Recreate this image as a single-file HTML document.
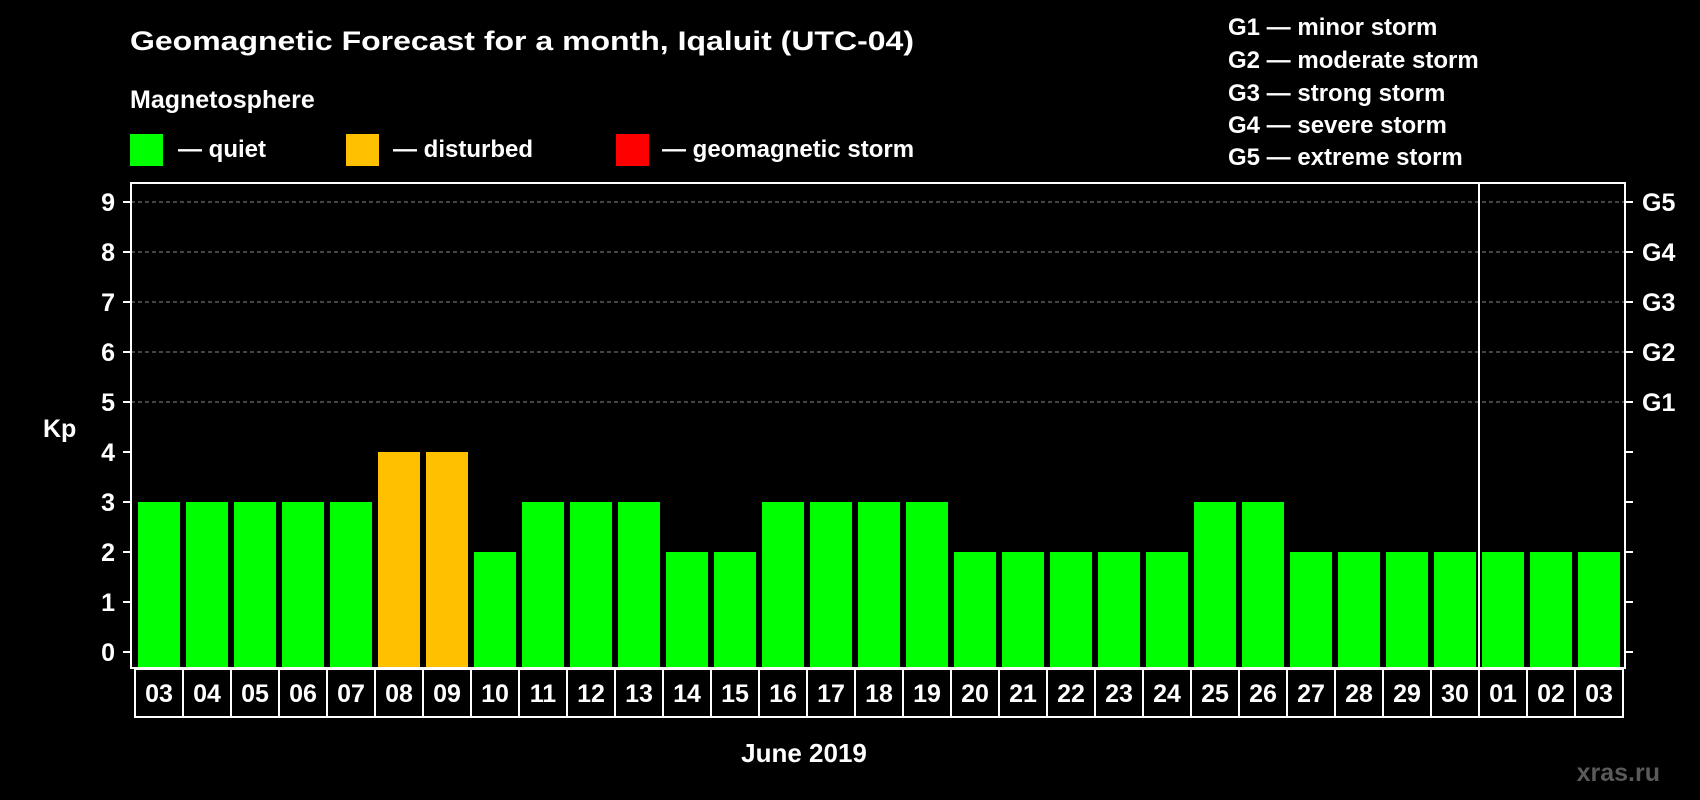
<!DOCTYPE html>
<html><head><meta charset="utf-8"><style>
html,body{margin:0;padding:0;background:#000;}
svg{display:block;font-family:"Liberation Sans",sans-serif;font-weight:bold;}
</style></head><body>
<svg id="chart" width="1700" height="800" viewBox="0 0 1700 800">
<rect x="0" y="0" width="1700" height="800" fill="#000"/>
<text x="130" y="50" fill="#fff" font-size="27" textLength="784" lengthAdjust="spacingAndGlyphs">Geomagnetic Forecast for a month, Iqaluit (UTC-04)</text>
<text x="130" y="108" fill="#fff" font-size="25">Magnetosphere</text>
<g><rect x="130" y="134" width="33" height="32" fill="#00ff00"/><text x="178" y="157" fill="#fff" font-size="24">— quiet</text></g>
<g><rect x="346" y="134" width="33" height="32" fill="#ffc000"/><text x="393" y="157" fill="#fff" font-size="24">— disturbed</text></g>
<g><rect x="616" y="134" width="33" height="32" fill="#ff0000"/><text x="662" y="157" fill="#fff" font-size="24">— geomagnetic storm</text></g>
<g fill="#fff" font-size="24">
<text x="1228" y="35">G1 — minor storm</text>
<text x="1228" y="68">G2 — moderate storm</text>
<text x="1228" y="101">G3 — strong storm</text>
<text x="1228" y="133">G4 — severe storm</text>
<text x="1228" y="165">G5 — extreme storm</text>
</g>
<text x="43" y="437" fill="#fff" font-size="25">Kp</text>
<text x="804" y="762" fill="#fff" font-size="26" text-anchor="middle">June 2019</text>
<text x="1660" y="781" fill="#5a5a5a" font-size="25" text-anchor="end">xras.ru</text>
<g id="grid"></g><g id="bars"></g><g id="axes"></g><g id="xlabels"></g>
</svg>
<script>
const days = ["03","04","05","06","07","08","09","10","11","12","13","14","15","16","17","18","19","20","21","22","23","24","25","26","27","28","29","30","01","02","03"];
const kpValues = [3,3,3,3,3,4,4,2,3,3,3,2,2,3,3,3,3,2,2,2,2,2,3,3,2,2,2,2,2,2,2];
const yTicks = [0,1,2,3,4,5,6,7,8,9];
const gLabels = ["","","","","","G1","G2","G3","G4","G5"];
const NS="http://www.w3.org/2000/svg";
const plotL=131, plotR=1625, plotT=183, plotB=668;
const y0=652, unit=50;
function yScale(v){return y0-v*unit;}
function xScale(i){return 138+i*48;}
function colorFor(v){return v>=5?"#ff0000":(v>=4?"#ffc000":"#00ff00");}
function mk(tag,attrs,parent){const e=document.createElementNS(NS,tag);for(const k in attrs)e.setAttribute(k,attrs[k]);parent.appendChild(e);return e;}
const grid=document.getElementById('grid'),bars=document.getElementById('bars'),axes=document.getElementById('axes'),xl=document.getElementById('xlabels');
yTicks.forEach((t,i)=>{
  const y=yScale(t);
  if(t>=5){const l=mk('line',{x1:plotL,x2:plotR,y1:y,y2:y,stroke:'#888','stroke-width':1,'stroke-dasharray':'4,3'},grid);
    
    }
  const tl=mk('line',{x1:123,x2:plotL,y1:y,y2:y,stroke:'#fff','stroke-width':2},axes);
  
  
  const tr=mk('line',{x1:plotR,x2:plotR+8,y1:y,y2:y,stroke:'#fff','stroke-width':2},axes);
  
  
  const tx=mk('text',{x:115,y:y+9,fill:'#fff','font-size':25,'text-anchor':'end'},axes);tx.textContent=t;
  
  
  if(gLabels[i]){const g=mk('text',{x:1642,y:y+9,fill:'#fff','font-size':25},axes);g.textContent=gLabels[i];
    
    }
});
kpValues.forEach((v,i)=>{
  const r=mk('rect',{x:xScale(i),y:yScale(v),width:42,height:plotB-1-yScale(v),fill:colorFor(v)},bars);
  
  
});
const frame=mk('rect',{x:plotL,y:plotT,width:plotR-plotL,height:plotB-plotT,fill:'none',stroke:'#fff','stroke-width':2},axes);


const div=mk('line',{x1:1479,x2:1479,y1:plotT,y2:plotB,stroke:'#fff','stroke-width':2},axes);


days.forEach((d,i)=>{
  const bx=135+i*48;
  const b=mk('rect',{x:bx,y:669,width:48,height:48,fill:'none',stroke:'#fff','stroke-width':2},xl);
  
  
  const t=mk('text',{x:bx+24,y:702,fill:'#fff','font-size':25,'text-anchor':'middle'},xl);t.textContent=d;
  
  
});
</script>
</body></html>
